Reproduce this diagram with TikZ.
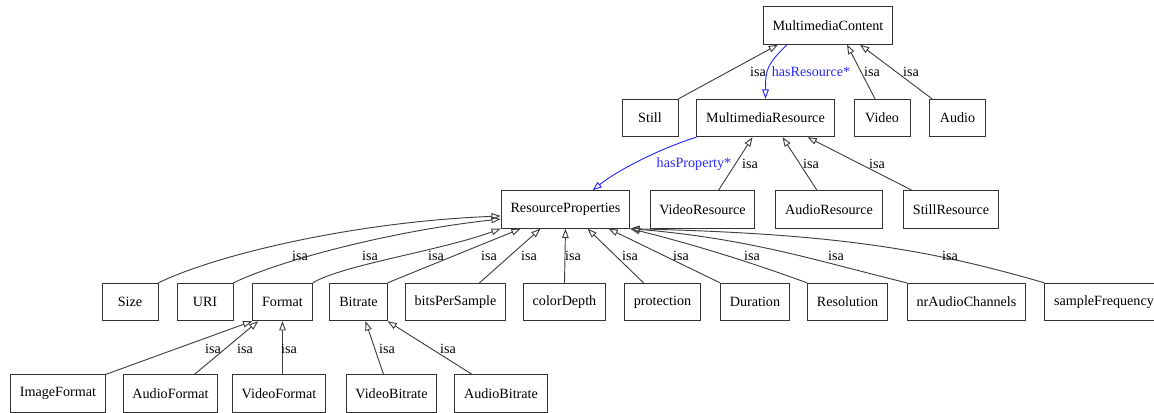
\documentclass[tikz,border=0pt]{standalone}
\usepackage{fontspec}
\setmainfont{Liberation Serif}
\usetikzlibrary{arrows.meta, calc}
\definecolor{relblue}{RGB}{40,40,255}
\tikzstyle{cls} = [rectangle, draw=black!80, line width=0.75pt, minimum width=42pt, minimum height=28pt, inner xsep=7pt, text centered, font=\fontsize{10.6pt}{12pt}\selectfont]
\tikzstyle{isa} = [draw=black!75, line width=0.7pt, -{Triangle[open,length=7pt,width=5pt]}]
\tikzstyle{rel} = [isa, draw=relblue]
\tikzstyle{lbl} = [inner sep=0pt, font=\fontsize{10.6pt}{12pt}\selectfont]
\tikzstyle{rellbl} = [lbl, text=relblue]

\begin{document}
\begin{tikzpicture}[x=0.75pt, y=-0.75pt]
    \useasboundingbox (0,0) rectangle (1154,413);
    % classes
    \node (mc) [cls] at (828,25.5) {MultimediaContent};
    \node (still) [cls] at (650,118) {Still};
    \node (mres) [cls] at (765.5,118) {MultimediaResource};
    \node (video) [cls] at (882,118) {Video};
    \node (audio) [cls] at (957.5,118) {Audio};
    \node (resprop) [cls] at (565.5,209.5) {ResourceProperties};
    \node (vres) [cls] at (702.5,209.5) {VideoResource};
    \node (ares) [cls] at (829,209.5) {AudioResource};
    \node (sres) [cls] at (951,209.5) {StillResource};
    \node (size) [cls] at (130,302) {Size};
    \node (uri) [cls] at (205,302) {URI};
    \node (format) [cls] at (282.5,302) {Format};
    \node (bitrate) [cls] at (358.5,302) {Bitrate};
    \node (bps) [cls] at (455.5,302) {bitsPerSample};
    \node (cdepth) [cls] at (564.5,302) {colorDepth};
    \node (prot) [cls] at (662.5,302) {protection};
    \node (dur) [cls] at (755,302) {Duration};
    \node (resol) [cls] at (847.5,302) {Resolution};
    \node (nrac) [cls] at (966.5,302) {nrAudioChannels};
    \node (sfreq) [cls] at (1104,302) {sampleFrequency};
    \node (imgf) [cls] at (58,393.5) {ImageFormat};
    \node (audf) [cls] at (170.5,393.5) {AudioFormat};
    \node (vidf) [cls] at (279,393.5) {VideoFormat};
    \node (vbit) [cls] at (391.5,393.5) {VideoBitrate};
    \node (abit) [cls] at (501,393.5) {AudioBitrate};

    % top level
    \draw [isa] (still.north east) -- ($(mc.south)+(-50,0)$) node[lbl] at (758,72) {isa};
    \draw [rel] ($(mc.south)+(-41,0)$) .. controls +(-20,20) and +(0,-30) .. (mres.north) node[rellbl] at (811,72) {hasResource*};
    \draw [isa] ($(video.north)+(-7,0)$) -- ($(mc.south)+(19,0)$) node[lbl] at (872,72) {isa};
    \draw [isa] ($(audio.north west)+(3,0)$) -- ($(mc.south)+(32,0)$) node[lbl] at (911,72) {isa};

    % resources
    \draw [rel] (mres.south west) .. controls +(-38,12) and +(25,-20) .. ($(resprop.north)+(27,0)$) node[rellbl] at (694,164) {hasProperty*};
    \draw [isa] ($(vres.north)+(16,0)$) -- ($(mres.south)+(-13,0)$) node[lbl] at (750,164) {isa};
    \draw [isa] ($(ares.north)+(-12,0)$) -- ($(mres.south)+(17,0)$) node[lbl] at (811,164) {isa};
    \draw [isa] ($(sres.north)+(-39,0)$) -- ($(mres.south)+(42,0)$) node[lbl] at (877,164) {isa};

    % properties
    \draw [isa] (size.north east) .. controls +(55,-27) and +(-150,6) .. ($(resprop.west)+(0,6.5)$) node[lbl] at (300,256) {isa};
    \draw [isa] (uri.north east) .. controls +(45,-22) and +(-110,12) .. ($(resprop.west)+(0,9.5)$) node[lbl] at (370,256) {isa};
    \draw [isa] (format.north east) .. controls +(30,-18) and +(-60,22) .. (resprop.south west) node[lbl] at (436,256) {isa};
    \draw [isa] (bitrate.north east) -- ($(resprop.south west)+(20,0)$) node[lbl] at (489,256) {isa};
    \draw [isa] ($(bps.north)+(24,0)$) -- ($(resprop.south)+(-25,0)$) node[lbl] at (529,256) {isa};
    \draw [isa] (cdepth.north) -- (resprop.south) node[lbl] at (573,256) {isa};
    \draw [isa] ($(prot.north)+(-19,0)$) -- ($(resprop.south)+(22,0)$) node[lbl] at (630,256) {isa};
    \draw [isa] (dur.north west) -- ($(resprop.south)+(43,0)$) node[lbl] at (681,256) {isa};
    \draw [isa] (resol.north west) .. controls +(-60,-22) and +(60,15) .. (resprop.south east) node[lbl] at (752,256) {isa};
    \draw [isa] (nrac.north west) .. controls +(-90,-22) and +(120,10) .. (resprop.south east) node[lbl] at (836,256) {isa};
    \draw [isa] (sfreq.north west) .. controls +(-120,-35) and +(200,5) .. (resprop.south east) node[lbl] at (950,256) {isa};

    % subclasses of Format and Bitrate
    \draw [isa] (imgf.north east) -- (format.south west) node[lbl] at (213,349) {isa};
    \draw [isa] ($(audf.north)+(24,0)$) -- ($(format.south west)+(6,0)$) node[lbl] at (245,349) {isa};
    \draw [isa] (format.south |- vidf.north) -- (format.south) node[lbl] at (289,349) {isa};
    \draw [isa] ($(vbit.north)+(-8,0)$) -- ($(bitrate.south)+(7,0)$) node[lbl] at (387,349) {isa};
    \draw [isa] ($(abit.north)+(-29,0)$) -- (bitrate.south east) node[lbl] at (448,349) {isa};
\end{tikzpicture}
\end{document}
